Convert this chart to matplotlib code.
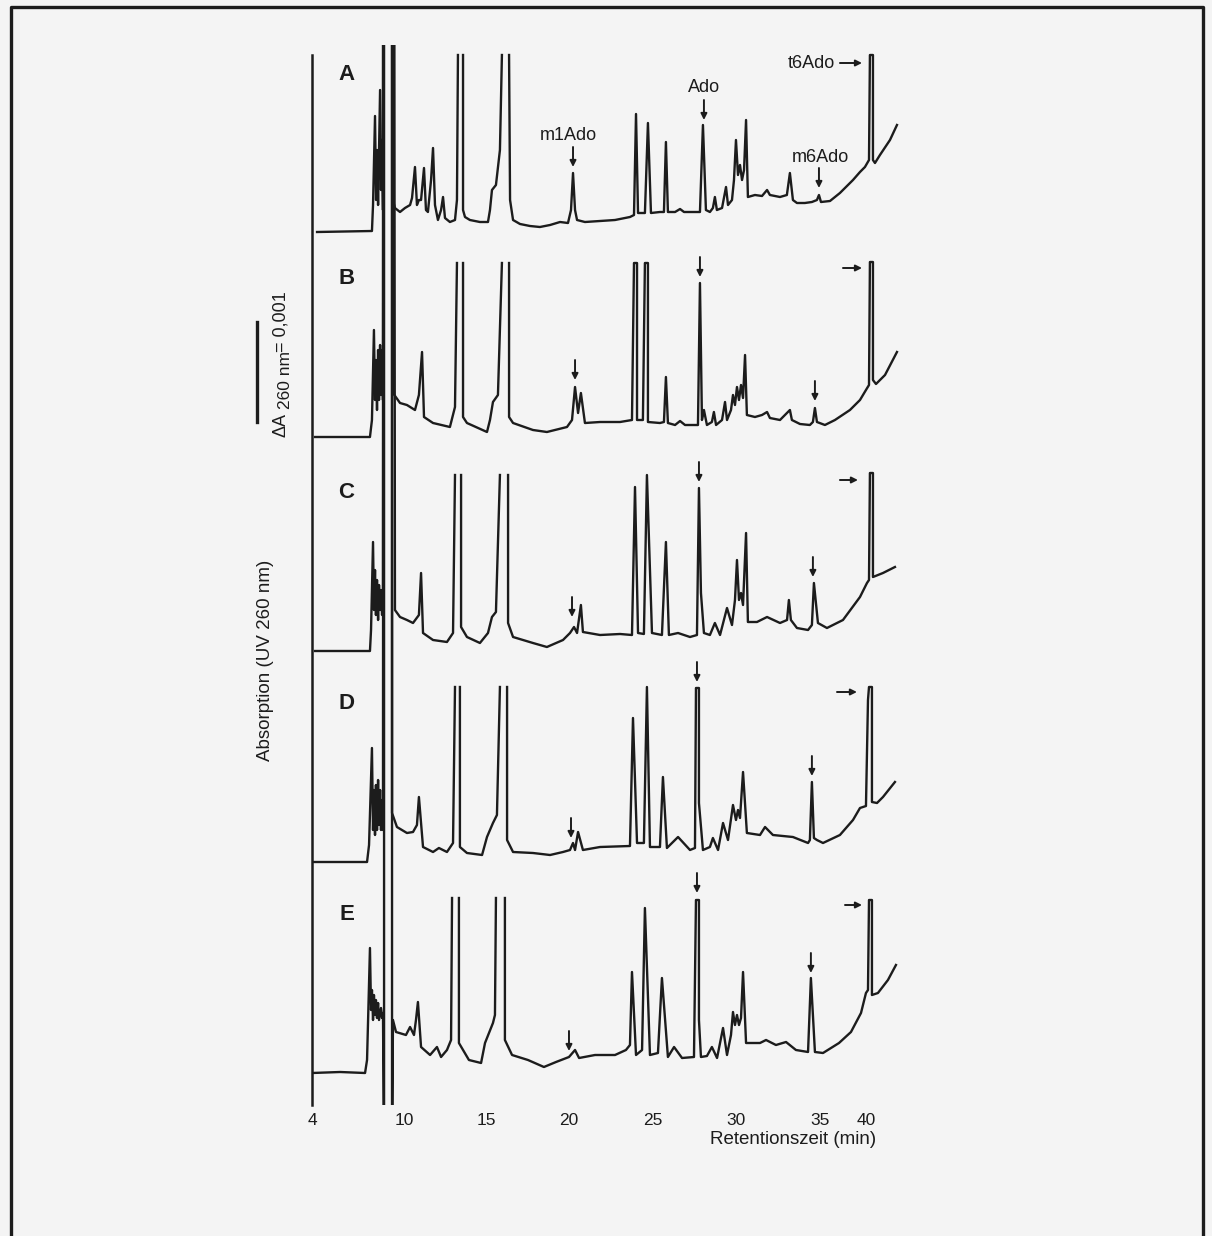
import numpy as np
import matplotlib
matplotlib.use("Agg")
import matplotlib.pyplot as plt
import matplotlib.transforms as mtransforms
from matplotlib.lines import Line2D

plt.rcParams['font.family'] = ['Liberation Sans', 'DejaVu Sans']

nan = np.nan
HI, LO = 30.0, -1.0   # off-scale excursions (solvent front)

# chromatograms: (retention time [min], absorbance above own baseline [mAU])
trace_a = [(4.33, 0.00), (7.91, 0.01), (7.98, 0.27), (8.11, 1.16), (8.18, 0.32), (8.24, 0.82),
           (8.31, 0.27), (8.44, 1.42), (8.50, 0.42), (8.57, 0.92), (8.63, 0.22), (8.70, HI),
           (nan, nan), (9.22, HI), (9.28, 0.32), (9.41, 0.24), (9.74, 0.20), (10.06, 0.24),
           (10.37, 0.27), (10.49, 0.34), (10.67, 0.65), (10.79, 0.27), (10.91, 0.32), (11.04, 0.32),
           (11.22, 0.64), (11.34, 0.22), (11.46, 0.20), (11.65, 0.52), (11.77, 0.84), (11.89, 0.27),
           (12.07, 0.12), (12.26, 0.22), (12.38, 0.35), (12.50, 0.14), (12.80, 0.10), (13.11, 0.12),
           (13.23, 0.32), (13.29, 1.77), (nan, nan), (13.60, 1.77), (13.60, 0.22), (13.72, 0.15),
           (14.02, 0.12), (14.63, 0.10), (15.12, 0.10), (15.24, 0.22), (15.36, 0.42), (15.60, 0.47),
           (15.84, 0.82), (15.96, 1.77), (nan, nan), (16.39, 1.77), (16.45, 0.32), (16.63, 0.12),
           (17.05, 0.08), (17.65, 0.06), (18.25, 0.05), (18.86, 0.07), (19.46, 0.10), (19.94, 0.09),
           (20.12, 0.22), (20.24, 0.59), (20.36, 0.22), (20.48, 0.12), (20.95, 0.10), (21.85, 0.11),
           (22.74, 0.12), (23.63, 0.15), (23.87, 0.17), (23.99, 1.18), (24.11, 0.19), (24.52, 0.19),
           (24.70, 1.09), (24.88, 0.19), (25.42, 0.20), (25.66, 0.20), (25.78, 0.90), (25.90, 0.20),
           (26.33, 0.20), (26.63, 0.23), (26.87, 0.20), (27.83, 0.20), (28.01, 1.07), (28.19, 0.22),
           (28.43, 0.20), (28.61, 0.24), (28.73, 0.35), (28.85, 0.22), (29.16, 0.24), (29.40, 0.45),
           (29.52, 0.27), (29.76, 0.32), (29.88, 0.52), (30.00, 0.92), (30.12, 0.57), (30.24, 0.67),
           (30.36, 0.52), (30.48, 0.62), (30.60, 1.12), (30.71, 0.35), (31.13, 0.37), (31.55, 0.36),
           (31.85, 0.42), (32.02, 0.37), (32.62, 0.35), (33.03, 0.37), (33.21, 0.59), (33.39, 0.32),
           (33.63, 0.29), (34.10, 0.29), (34.52, 0.30), (34.82, 0.32), (34.94, 0.37), (35.11, 0.30),
           (36.09, 0.31), (37.17, 0.39), (38.59, 0.52), (39.35, 0.60), (39.89, 0.65), (40.33, 0.72),
           (40.43, 1.77), (40.76, 1.77), (40.76, 0.72), (40.98, 0.69), (41.52, 0.77), (42.61, 0.92),
           (43.37, 1.07)]

trace_b = [(4.20, 0.00), (7.78, 0.00), (7.91, 0.17), (8.04, 1.07), (8.11, 0.37), (8.17, 0.77),
           (8.24, 0.27), (8.31, 0.87), (8.37, 0.37), (8.44, 0.92), (8.50, 0.42), (8.57, 0.87),
           (8.63, 0.37), (8.70, HI), (nan, nan), (9.22, HI), (9.28, 0.44), (9.74, 0.34),
           (10.18, 0.32), (10.67, 0.27), (10.91, 0.42), (11.10, 0.85), (11.22, 0.20), (11.77, 0.14),
           (12.80, 0.10), (13.11, 0.30), (13.23, 1.74), (nan, nan), (13.60, 1.74), (13.60, 0.20),
           (13.84, 0.14), (15.06, 0.05), (15.24, 0.17), (15.42, 0.35), (15.72, 0.42), (15.96, 1.74),
           (nan, nan), (16.39, 1.74), (16.39, 0.20), (16.63, 0.14), (17.83, 0.07), (18.67, 0.05),
           (19.88, 0.10), (20.18, 0.17), (20.36, 0.50), (20.54, 0.24), (20.71, 0.44), (20.95, 0.14),
           (21.85, 0.15), (23.04, 0.15), (23.75, 0.17), (23.87, 1.74), (24.05, 1.74), (24.05, 0.17),
           (24.40, 0.17), (24.52, 1.74), (24.70, 1.74), (24.70, 0.15), (25.42, 0.14), (25.66, 0.15),
           (25.78, 0.60), (25.90, 0.14), (26.33, 0.12), (26.63, 0.16), (26.93, 0.12), (27.71, 0.12),
           (27.83, 1.54), (27.95, 0.17), (28.07, 0.27), (28.25, 0.12), (28.55, 0.15), (28.67, 0.25),
           (28.80, 0.12), (29.16, 0.17), (29.34, 0.35), (29.46, 0.17), (29.70, 0.27), (29.82, 0.42),
           (29.94, 0.32), (30.06, 0.50), (30.18, 0.37), (30.30, 0.52), (30.42, 0.39), (30.54, 0.82),
           (30.65, 0.22), (31.13, 0.20), (31.55, 0.22), (31.85, 0.25), (32.02, 0.19), (32.62, 0.17),
           (33.21, 0.27), (33.33, 0.17), (33.81, 0.13), (34.40, 0.12), (34.58, 0.15), (34.70, 0.29),
           (34.82, 0.15), (35.54, 0.12), (36.63, 0.17), (38.26, 0.27), (39.35, 0.37), (40.00, 0.47),
           (40.33, 0.52), (40.43, 1.75), (40.76, 1.75), (40.76, 0.57), (41.09, 0.53), (42.07, 0.62),
           (43.37, 0.85)]

trace_c = [(4.20, 0.00), (7.78, 0.00), (7.85, 0.21), (7.98, 1.09), (8.04, 0.41), (8.11, 0.81),
           (8.17, 0.36), (8.24, 0.71), (8.31, 0.31), (8.37, 0.66), (8.44, 0.41), (8.50, 0.61),
           (8.57, 0.36), (8.63, 0.56), (8.70, HI), (nan, nan), (9.22, HI), (9.41, 0.41),
           (9.74, 0.34), (10.18, 0.31), (10.55, 0.28), (10.91, 0.36), (11.04, 0.78), (11.16, 0.18),
           (11.77, 0.11), (12.62, 0.09), (12.99, 0.18), (13.11, 1.76), (nan, nan), (13.48, 1.76),
           (13.48, 0.24), (13.84, 0.14), (14.63, 0.08), (15.12, 0.18), (15.36, 0.34), (15.60, 0.39),
           (15.84, 1.76), (nan, nan), (16.33, 1.76), (16.33, 0.28), (16.63, 0.14), (17.83, 0.08),
           (18.67, 0.04), (19.64, 0.11), (20.06, 0.18), (20.30, 0.24), (20.48, 0.18), (20.71, 0.46),
           (20.83, 0.19), (21.85, 0.16), (23.04, 0.17), (23.75, 0.16), (23.93, 1.64), (24.11, 0.18),
           (24.46, 0.17), (24.64, 1.76), (24.94, 0.18), (25.54, 0.16), (25.78, 1.09), (25.96, 0.16),
           (26.51, 0.18), (27.23, 0.14), (27.65, 0.16), (27.77, 1.63), (27.89, 0.58), (28.07, 0.18),
           (28.43, 0.16), (28.73, 0.28), (29.04, 0.16), (29.46, 0.43), (29.76, 0.26), (29.94, 0.51),
           (30.06, 0.91), (30.18, 0.51), (30.30, 0.58), (30.42, 0.46), (30.60, 1.18), (30.71, 0.29),
           (31.25, 0.29), (31.85, 0.34), (32.62, 0.28), (33.04, 0.31), (33.15, 0.51), (33.27, 0.31),
           (33.63, 0.23), (34.29, 0.21), (34.52, 0.26), (34.64, 0.68), (34.88, 0.28), (35.76, 0.23),
           (37.50, 0.31), (39.35, 0.54), (40.11, 0.68), (40.33, 0.71), (40.43, 1.78), (40.76, 1.78),
           (40.76, 0.74), (41.85, 0.78), (43.15, 0.84)]

trace_d = [(4.07, 0.00), (7.59, 0.00), (7.72, 0.17), (7.91, 1.14), (7.98, 0.32), (8.04, 0.72),
           (8.11, 0.27), (8.17, 0.77), (8.24, 0.32), (8.31, 0.82), (8.37, 0.37), (8.44, 0.72),
           (8.50, 0.32), (8.57, 0.62), (8.63, 0.32), (8.70, HI), (nan, nan), (9.22, HI),
           (9.22, 0.49), (9.54, 0.35), (10.18, 0.29), (10.55, 0.30), (10.79, 0.37), (10.91, 0.65),
           (11.16, 0.15), (11.77, 0.10), (12.13, 0.14), (12.62, 0.10), (12.99, 0.19), (13.11, 1.75),
           (nan, nan), (13.41, 1.75), (13.41, 0.15), (13.84, 0.09), (14.76, 0.07), (15.06, 0.25),
           (15.42, 0.39), (15.66, 0.47), (15.84, 1.75), (nan, nan), (16.27, 1.75), (16.27, 0.22),
           (16.63, 0.10), (17.83, 0.09), (18.86, 0.07), (19.64, 0.10), (20.06, 0.12), (20.24, 0.19),
           (20.36, 0.12), (20.54, 0.30), (20.83, 0.12), (21.85, 0.15), (23.63, 0.16), (23.81, 1.44),
           (24.05, 0.19), (24.46, 0.19), (24.64, 1.75), (24.82, 0.15), (25.42, 0.15), (25.60, 0.85),
           (25.84, 0.14), (26.51, 0.25), (27.23, 0.12), (27.53, 0.14), (27.59, 1.74), (27.77, 1.74),
           (27.77, 0.59), (28.01, 0.12), (28.43, 0.15), (28.61, 0.24), (28.92, 0.12), (29.22, 0.39),
           (29.52, 0.22), (29.82, 0.57), (30.00, 0.42), (30.12, 0.52), (30.24, 0.44), (30.42, 0.90),
           (30.65, 0.29), (31.43, 0.27), (31.73, 0.35), (32.20, 0.27), (33.39, 0.25), (34.29, 0.19),
           (34.40, 0.22), (34.52, 0.80), (34.64, 0.24), (34.82, 0.22), (35.33, 0.19), (37.17, 0.27),
           (38.59, 0.42), (39.35, 0.54), (40.00, 0.56), (40.22, 1.62), (40.33, 1.75), (40.65, 1.75),
           (40.65, 0.60), (41.20, 0.59), (41.85, 0.65), (43.15, 0.80)]

trace_e = [(4.00, 0.00), (5.83, 0.01), (7.46, 0.00), (7.59, 0.13), (7.78, 1.25), (7.85, 0.63),
           (7.91, 0.83), (7.98, 0.53), (8.04, 0.78), (8.11, 0.58), (8.17, 0.73), (8.24, 0.55),
           (8.31, 0.70), (8.37, 0.53), (8.50, 0.65), (8.57, 0.55), (8.63, 0.60), (8.70, LO),
           (8.70, HI), (nan, nan), (9.22, HI), (9.22, LO), (9.28, 0.53), (9.48, 0.41),
           (10.12, 0.38), (10.37, 0.46), (10.61, 0.38), (10.73, 0.53), (10.85, 0.71), (11.04, 0.26),
           (11.59, 0.18), (12.01, 0.26), (12.26, 0.16), (12.62, 0.23), (12.87, 0.33), (12.93, 1.75),
           (nan, nan), (13.35, 1.75), (13.35, 0.30), (13.96, 0.13), (14.70, 0.10), (14.94, 0.30),
           (15.42, 0.50), (15.54, 0.58), (15.60, 1.75), (nan, nan), (16.14, 1.75), (16.14, 0.33),
           (16.57, 0.18), (17.53, 0.13), (18.49, 0.06), (19.22, 0.11), (20.00, 0.16), (20.36, 0.23),
           (20.60, 0.15), (21.55, 0.18), (22.74, 0.18), (23.39, 0.23), (23.63, 0.28), (23.75, 1.01),
           (23.99, 0.18), (24.35, 0.23), (24.52, 1.65), (24.82, 0.18), (25.30, 0.20), (25.54, 0.95),
           (25.90, 0.16), (26.27, 0.26), (26.75, 0.15), (27.47, 0.16), (27.59, 1.73), (27.77, 1.73),
           (27.77, 0.53), (27.89, 0.16), (28.25, 0.17), (28.55, 0.26), (28.86, 0.15), (29.22, 0.45),
           (29.46, 0.18), (29.70, 0.38), (29.82, 0.61), (29.94, 0.48), (30.06, 0.58), (30.18, 0.48),
           (30.30, 0.55), (30.42, 1.01), (30.60, 0.30), (31.43, 0.30), (31.79, 0.33), (32.38, 0.28),
           (32.98, 0.31), (33.57, 0.23), (34.29, 0.21), (34.46, 0.95), (34.70, 0.21), (35.33, 0.20),
           (37.07, 0.30), (38.37, 0.41), (39.46, 0.60), (40.00, 0.80), (40.22, 0.83), (40.33, 1.73),
           (40.65, 1.73), (40.65, 0.78), (41.30, 0.80), (42.39, 0.93), (43.26, 1.08)]

panels = ['A', 'B', 'C', 'D', 'E']
traces = [trace_a, trace_b, trace_c, trace_d, trace_e]
offsets = [0.0, -2.05, -4.19, -6.30, -8.41]   # vertical stacking of the traces [mAU]

# marker arrows (time, tip height) : m1Ado, Ado, m6Ado
down_arrows = [[(20.24, 0.65), (28.07, 1.12), (34.94, 0.44)],
               [(20.36, 0.57), (27.83, 1.60), (34.70, 0.36)],
               [(20.18, 0.34), (27.77, 1.69), (34.58, 0.74)],
               [(20.12, 0.24), (27.65, 1.80), (34.52, 0.86)],
               [(20.00, 0.22), (27.65, 1.80), (34.46, 1.00)]]
# t6Ado arrows (start, end, height)
right_arrows = [(37.17, 39.57, 1.69), (37.50, 39.57, 1.69), (37.17, 39.13, 1.71),
                (36.85, 39.02, 1.70), (37.72, 39.57, 1.68)]
peak_names = [('m1Ado', 19.94, 0.97, 'center'), ('Ado', 28.07, 1.45, 'center'),
              ('m6Ado', 35.0, 0.75, 'center'), ('t6Ado', 36.63, 1.69, 'right')]

tick_min = [4, 10, 15, 20, 25, 30, 35, 40]
tick_labels = ['4', '10', '15', '20', '25', '30', '35', '40']

# the printed time axis is not evenly spaced: piecewise scale through the tick marks
knot_min = [0, 4, 10, 15, 20, 25, 30, 35, 40, 50]
knot_pos = [250.7, 312, 404, 486, 569, 653, 736, 820, 866, 958]


def fwd(x):
    return np.interp(x, knot_min, knot_pos)


def inv(u):
    return np.interp(u, knot_pos, knot_min)


ink = '#1c1c1c'
W, H = 1212, 1236
fig = plt.figure(figsize=(W / 100, H / 100), dpi=100, facecolor='#f4f4f4')
ax = fig.add_axes([312 / W, 1 - 1105 / H, (900 - 312) / W, (1105 - 45) / H])
ax.set_facecolor('none')
ax.set_xscale('function', functions=(fwd, inv))
ax.set_xlim(4, 43.70)
ax.set_ylim(-8.73, 1.87)

for name, tr, off in zip(panels, traces, offsets):
    t, h = np.array(tr).T
    ax.plot(t, h + off, color=ink, lw=1.7, solid_joinstyle='round')
    ax.text(6.25, 1.58 + off, name, fontsize=16, fontweight='bold', color=ink,
            ha='center', va='center')

for arrs, off in zip(down_arrows, offsets):
    for t, tip in arrs:
        ax.annotate('', xy=(t, tip + off), xytext=(t, tip + off + 0.2),
                    arrowprops=dict(arrowstyle='-|>', color=ink, lw=1.4,
                                    mutation_scale=9, shrinkA=0, shrinkB=0))

for (t0, t1, h), off in zip(right_arrows, offsets):
    ax.annotate('', xy=(t1, h + off), xytext=(t0, h + off),
                arrowprops=dict(arrowstyle='-|>', color=ink, lw=1.4,
                                mutation_scale=9, shrinkA=0, shrinkB=0))

for label, t, h, ha in peak_names:
    ax.text(t, h, label, fontsize=13, color=ink, ha=ha, va='center')

for s in ['top', 'right', 'bottom']:
    ax.spines[s].set_visible(False)
ax.spines['left'].set_color(ink)
ax.spines['left'].set_linewidth(1.8)
ax.spines['left'].set_bounds(-8.73, 1.77)
ax.set_yticks([])
ax.set_xticks(tick_min)
ax.set_xticklabels(tick_labels)
ax.tick_params(axis='x', length=0, pad=6, labelsize=12.5, labelcolor=ink)
ax.minorticks_off()

# scale bar: 1 mAU = 0.001 absorbance units
bar = mtransforms.blended_transform_factory(ax.transAxes, ax.transData)
ax.plot([-0.0935, -0.0935], [-0.90, -1.90], color=ink, lw=2.4, transform=bar, clip_on=False)
for txt, xp, yp, fs in [('ΔA', 281, 437, 13), ('260 nm', 285, 409, 12.5), ('= 0,001', 281, 352, 13)]:
    fig.text(xp / W, 1 - yp / H, txt, rotation=90, rotation_mode='anchor', fontsize=fs,
             color=ink, ha='left', va='center')

fig.text(265 / W, 1 - 660 / H, 'Absorption (UV 260 nm)', rotation=90, fontsize=13.5,
         color=ink, ha='center', va='center')
fig.text(793 / W, 1 - 1140 / H, 'Retentionszeit (min)', fontsize=13.5, color=ink,
         ha='center', va='center')

# outer frame of the scanned page
x0, x1, y1 = 11 / W, 1203 / W, 1 - 7 / H
fig.add_artist(Line2D([x0, x0, x1, x1], [-0.01, y1, y1, -0.01], color=ink, lw=2.4,
                      transform=fig.transFigure))

fig.savefig('out.png', dpi=100, facecolor=fig.get_facecolor())
